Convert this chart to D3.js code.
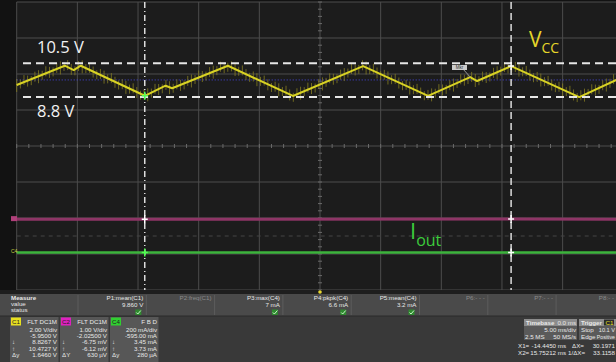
<!DOCTYPE html>
<html>
<head>
<meta charset="utf-8">
<script src="https://cdn.jsdelivr.net/npm/d3@7"></script>
<style>
body { margin: 0; background: #111; }
svg { display: block; font-family: "Liberation Sans", Arial, sans-serif; }
</style>
</head>
<body>
<svg id="scope" width="616" height="362"></svg>
<script>
// C1 (Vcc) corner points: time in ms, volts
const c1Time = [-25.0, -21.04, -20.30, -19.72, -14.44, -12.73, -12.19, -7.59, -2.23, 3.55, 8.91, 12.38, 12.95, 15.76, 21.37, 24.42, 25.0];
const c1Volt = [9.34, 10.41, 10.17, 10.41, 8.74, 9.30, 9.16, 10.41, 8.73, 10.39, 8.73, 9.78, 9.56, 10.39, 8.67, 9.62, 9.78];

// C2 (V) and C4 (mA), flat traces
const flatTime = [-25, -14.445, 15.752, 25];
const c2Volt = [-0.0065, -0.00675, -0.00612, -0.0064];
const c4Amp = [3.5, 3.45, 3.73, 3.6];

// channel settings
const chanNames = ["C1", "C2", "C4"];
const chanPerDiv = [2, 1, 200];
const chanOffset = [-5.95, -2.025, -595];
const chanCoupling = ["FLT DC1M", "FLT DC1M", "F B D"];
const chanScaleText = ["2.00 V/div", "1.00 V/div", "200 mA/div"];
const chanOffsetText = ["-5.9500 V", "-2.02500 V", "-595.00 mA"];
const chanAtX1 = ["8.8267 V", "-6.75 mV", "3.45 mA"];
const chanAtX2 = ["10.4727 V", "-6.12 mV", "3.73 mA"];
const chanDelta = ["1.6460 V", "630 µV", "280 µA"];
const chanDeltaLabel = ["Δy", "ΔY", "Δy"];

// cursors (ms) and hand drawn level marks (V)
const cursorX = [-14.445, 15.75212];
const markLevels = [10.55, 8.67];
const markLabels = ["10.5 V", "8.8 V"];
const refLevel = 9.62;

// measurements
const measNames = ["P1:mean(C1)", "P2:freq(C1)", "P3:max(C4)", "P4:pkpk(C4)", "P5:mean(C4)", "P6:- - -", "P7:- - -", "P8:- -"];
const measValues = ["9.860 V", "", "7 mA", "6.6 mA", "3.2 mA", "", "", ""];
const measOn = [true, false, true, true, true, false, false, false];

const svg = d3.select("#scope");

const x = d3.scaleLinear().domain([-25, 25]).range([16.7, 623.3]);
const yDiv = d3.scaleLinear().domain([-4, 4]).range([290, 2]);
function chanY(i, v) { return yDiv((v + chanOffset[i]) / chanPerDiv[i]); }

// backgrounds
svg.append("rect").attr("width", 616).attr("height", 362).attr("fill", "#121212");
svg.append("rect").attr("x", 16.7).attr("y", 2).attr("width", 610).attr("height", 288).attr("fill", "#1c1c1c");

// grid
const grid = svg.append("g");
grid.selectAll(".gx").data(d3.range(-25, 26, 5)).join("line")
	.attr("x1", d => x(d)).attr("x2", d => x(d))
	.attr("y1", 2).attr("y2", 290)
	.attr("stroke", "#4c4c4c").attr("stroke-width", 1);
grid.selectAll(".gy").data(d3.range(-4, 5)).join("line")
	.attr("x1", 16.7).attr("x2", 616)
	.attr("y1", d => yDiv(d)).attr("y2", d => yDiv(d))
	.attr("stroke", "#4c4c4c").attr("stroke-width", 1);

// minor ticks on the centre axes
grid.selectAll(".mx").data(d3.range(-25, 25.01, 1)).join("line")
	.attr("x1", d => x(d)).attr("x2", d => x(d))
	.attr("y1", yDiv(0) - 2).attr("y2", yDiv(0) + 2)
	.attr("stroke", "#6a6a6a");
grid.selectAll(".my").data(d3.range(-4, 4.01, 0.2)).join("line")
	.attr("x1", x(0) - 2).attr("x2", x(0) + 2)
	.attr("y1", d => yDiv(d)).attr("y2", d => yDiv(d))
	.attr("stroke", "#6a6a6a");

// faint dashed reference between the lower traces
svg.append("line")
	.attr("x1", 16.7).attr("x2", 616)
	.attr("y1", yDiv(-2.5)).attr("y2", yDiv(-2.5))
	.attr("stroke", "#444").attr("stroke-dasharray", "4,4");

// blue dotted reference on C1
svg.append("line")
	.attr("x1", 16.7).attr("x2", 616)
	.attr("y1", chanY(0, refLevel)).attr("y2", chanY(0, refLevel))
	.attr("stroke", "#4646e0").attr("stroke-width", 1).attr("stroke-dasharray", "1,2");

// persistence hair along C1
const traceAt = d3.scaleLinear().domain(c1Time).range(c1Volt);
const hairLen = [6, 4, 7, 5, 3, 6];
svg.append("g").selectAll("line").data(d3.range(-25, 25, 0.3)).join("line")
	.attr("x1", d => x(d)).attr("x2", d => x(d))
	.attr("y1", (d, i) => chanY(0, traceAt(d)) - hairLen[i % 6])
	.attr("y2", (d, i) => chanY(0, traceAt(d)) + hairLen[(i + 2) % 6])
	.attr("stroke", "#857d22").attr("stroke-width", 1).attr("opacity", 0.8);

const c1Line = d3.line().x((d, i) => x(c1Time[i])).y(d => chanY(0, d));
svg.append("path").datum(c1Volt)
	.attr("fill", "none").attr("stroke", "#d8d224").attr("stroke-width", 2)
	.attr("stroke-linejoin", "round").attr("d", c1Line);

// C2 and C4
svg.append("path").datum(c2Volt)
	.attr("fill", "none").attr("stroke", "#8e3566").attr("stroke-width", 3)
	.attr("d", d3.line().x((d, i) => x(flatTime[i])).y(d => chanY(1, d)));
svg.append("path").datum(c4Amp)
	.attr("fill", "none").attr("stroke", "#3cb43c").attr("stroke-width", 2.5)
	.attr("d", d3.line().x((d, i) => x(flatTime[i])).y(d => chanY(2, d)));

// channel tags at left edge
svg.append("rect").attr("x", 11).attr("y", chanY(1, c2Volt[0]) - 3).attr("width", 6).attr("height", 5).attr("fill", "#b0407a");
svg.append("text").attr("x", 11).attr("y", chanY(2, c4Amp[0]) + 1).attr("font-size", 5).attr("fill", "#c8d040").text("C4");

// hand drawn level marks
svg.selectAll(".mark").data(markLevels).join("line")
	.attr("x1", 23).attr("x2", 616)
	.attr("y1", d => chanY(0, d)).attr("y2", d => chanY(0, d))
	.attr("stroke", "#e6e6e6").attr("stroke-width", 2).attr("stroke-dasharray", "8,5");
svg.selectAll(".marklbl").data(markLabels).join("text")
	.attr("x", 37)
	.attr("y", (d, i) => chanY(0, markLevels[i]) + (i === 0 ? -10 : 20))
	.attr("font-family", "Open Sans").attr("font-size", 16.5).attr("fill", "#f2f2f2")
	.text(d => d);

// vertical cursors
svg.selectAll(".cur").data(cursorX).join("line")
	.attr("x1", d => x(d)).attr("x2", d => x(d))
	.attr("y1", 2).attr("y2", 290)
	.attr("stroke", "#dcdcdc").attr("stroke-width", 1.5)
	.attr("stroke-dasharray", (d, i) => i === 0 ? "6,3,1,3" : "7,4");

// cursor crossings
const c2At = d3.scaleLinear().domain(flatTime).range(c2Volt);
const c4At = d3.scaleLinear().domain(flatTime).range(c4Amp);
const crossings = [];
cursorX.forEach(function (t, i) {
	crossings.push({ x: x(t), y: chanY(0, traceAt(t)), c: i === 0 ? "#50ff50" : "#fff" });
	crossings.push({ x: x(t), y: chanY(1, c2At(t)), c: "#fff" });
	crossings.push({ x: x(t), y: chanY(2, c4At(t)), c: i === 0 ? "#50ff50" : "#fff" });
});
svg.selectAll(".xc").data(crossings).join("path")
	.attr("d", d => `M${d.x - 3},${d.y}h6M${d.x},${d.y - 4}v8`)
	.attr("stroke", d => d.c).attr("stroke-width", 1.5);

// small marker tag on C1
svg.append("line").attr("x1", 463).attr("y1", 69).attr("x2", x(12.38)).attr("y2", chanY(0, 9.78)).attr("stroke", "#999");
svg.append("rect").attr("x", 452).attr("y", 65).attr("width", 15).attr("height", 5).attr("fill", "#ccc");
svg.append("text").attr("x", 459.5).attr("y", 69).attr("font-size", 4.5).attr("text-anchor", "middle").attr("fill", "#333").text("Mkr");

// labels
const vcc = svg.append("text").attr("x", 529).attr("y", 47)
	.attr("font-family", "Open Sans").attr("fill", "#e6d62a");
vcc.append("tspan").attr("font-size", 21).text("V");
vcc.append("tspan").attr("font-size", 14).attr("dy", 6).text("CC");
const iout = svg.append("text").attr("x", 410).attr("y", 239)
	.attr("font-family", "Open Sans").attr("fill", "#3ccc3c");
iout.append("tspan").attr("font-size", 22).text("I");
iout.append("tspan").attr("font-size", 16).attr("dy", 7).text("out");

// ---- bottom panel ----
svg.append("rect").attr("x", 0).attr("y", 290).attr("width", 616).attr("height", 4).attr("fill", "#1e1e1e");
svg.append("circle").attr("cx", x(0)).attr("cy", 292).attr("r", 1.8).attr("fill", "#e8d830");
svg.append("rect").attr("x", 0).attr("y", 294).attr("width", 616).attr("height", 22).attr("fill", "#4a4a4a");
svg.append("rect").attr("x", 0).attr("y", 316).attr("width", 616).attr("height", 46).attr("fill", "#393939");
svg.append("line").attr("x1", 0).attr("x2", 616).attr("y1", 316).attr("y2", 316).attr("stroke", "#2a2a2a");

const panel = svg.append("g").attr("font-size", 6.2).attr("fill", "#e8e8e8");
panel.append("text").attr("x", 11).attr("y", 300).attr("font-weight", "bold").text("Measure");
panel.append("text").attr("x", 11).attr("y", 306).text("value");
panel.append("text").attr("x", 11).attr("y", 312).text("status");

const colStep = 68.3;
measNames.forEach(function (name, i) {
	const left = 78 + colStep * i, right = Math.min(left + colStep, 617);
	panel.append("line").attr("x1", left).attr("x2", left).attr("y1", 295).attr("y2", 315).attr("stroke", "#5c5c5c");
	panel.append("text").attr("x", right - 3).attr("y", 300).attr("text-anchor", "end")
		.attr("fill", measOn[i] ? "#e8e8e8" : "#8a8a8a").text(name);
	if (measValues[i]) {
		panel.append("text").attr("x", right - 3).attr("y", 307).attr("text-anchor", "end").text(measValues[i]);
	}
	if (measOn[i]) {
		panel.append("rect").attr("x", right - 11).attr("y", 309.5).attr("width", 6).attr("height", 5.5).attr("fill", "#2f8a2f");
		panel.append("path").attr("d", `M${right - 10},${312.5}l1.5,1.5l3,-3.5`)
			.attr("fill", "none").attr("stroke", "#d8ffd8").attr("stroke-width", 0.9);
	}
});

// channel boxes
const tagColor = ["#e8e020", "#e020c0", "#30d030"];
const boxLeft = [10, 60, 110];
chanNames.forEach(function (name, i) {
	const bx = boxLeft[i], right = bx + 48;
	panel.append("rect").attr("x", bx).attr("y", 317).attr("width", 48.5).attr("height", 45).attr("fill", "#575757");
	panel.append("rect").attr("x", bx + 1).attr("y", 317.5).attr("width", 10).attr("height", 8).attr("fill", tagColor[i]);
	panel.append("text").attr("x", bx + 6).attr("y", 324).attr("text-anchor", "middle").attr("fill", "#222").text(name);
	panel.append("text").attr("x", right - 1).attr("y", 324).attr("text-anchor", "end").text(chanCoupling[i]);
	const rows = [chanScaleText[i], chanOffsetText[i], chanAtX1[i], chanAtX2[i], chanDelta[i]];
	rows.forEach(function (r, j) {
		panel.append("text").attr("x", right - 1).attr("y", 332 + j * 6.2).attr("text-anchor", "end").text(r);
	});
	["↓", "↑", chanDeltaLabel[i]].forEach(function (s, j) {
		panel.append("text").attr("x", bx + 2).attr("y", 344.4 + j * 6.2).text(s);
	});
});

// timebase and trigger
panel.append("rect").attr("x", 524).attr("y", 319).attr("width", 53).attr("height", 21).attr("fill", "#5a5a5a");
panel.append("rect").attr("x", 524).attr("y", 319).attr("width", 53).attr("height", 7).attr("fill", "#8c8c8c");
panel.append("text").attr("x", 526).attr("y", 324.5).attr("font-weight", "bold").text("Timebase");
panel.append("text").attr("x", 576).attr("y", 324.5).attr("text-anchor", "end").text("0.0 ms");
panel.append("text").attr("x", 576).attr("y", 332).attr("text-anchor", "end").text("5.00 ms/div");
panel.append("text").attr("x", 525).attr("y", 338.5).text("2.5 MS");
panel.append("text").attr("x", 576).attr("y", 338.5).attr("text-anchor", "end").text("50 MS/s");

panel.append("rect").attr("x", 579).attr("y", 319).attr("width", 40).attr("height", 21).attr("fill", "#5a5a5a");
panel.append("rect").attr("x", 579).attr("y", 319).attr("width", 40).attr("height", 7).attr("fill", "#8c8c8c");
panel.append("text").attr("x", 581).attr("y", 324.5).attr("font-weight", "bold").text("Trigger");
panel.append("rect").attr("x", 604).attr("y", 319.5).attr("width", 10).attr("height", 6).attr("fill", "#2a2a2a");
panel.append("text").attr("x", 605.5).attr("y", 324.5).attr("fill", "#e8e020").text("C1");
panel.append("text").attr("x", 581).attr("y", 332).text("Stop");
panel.append("text").attr("x", 615).attr("y", 332).attr("text-anchor", "end").attr("font-size", 5.6).text("10.1 V");
panel.append("text").attr("x", 581).attr("y", 338.5).text("Edge");
panel.append("text").attr("x", 615).attr("y", 338.5).attr("text-anchor", "end").attr("font-size", 5.2).text("Positive");

panel.append("text").attr("x", 518).attr("y", 348).text("X1=");
panel.append("text").attr("x", 566).attr("y", 348).attr("text-anchor", "end").text("-14.4450 ms");
panel.append("text").attr("x", 572).attr("y", 348).text("ΔX=");
panel.append("text").attr("x", 615).attr("y", 348).attr("text-anchor", "end").text("30.1971");
panel.append("text").attr("x", 518).attr("y", 355).text("X2=");
panel.append("text").attr("x", 566).attr("y", 355).attr("text-anchor", "end").text("15.75212 ms");
panel.append("text").attr("x", 568).attr("y", 355).text("1/ΔX=");
panel.append("text").attr("x", 615).attr("y", 355).attr("text-anchor", "end").text("33.1158");
</script>
</body>
</html>
